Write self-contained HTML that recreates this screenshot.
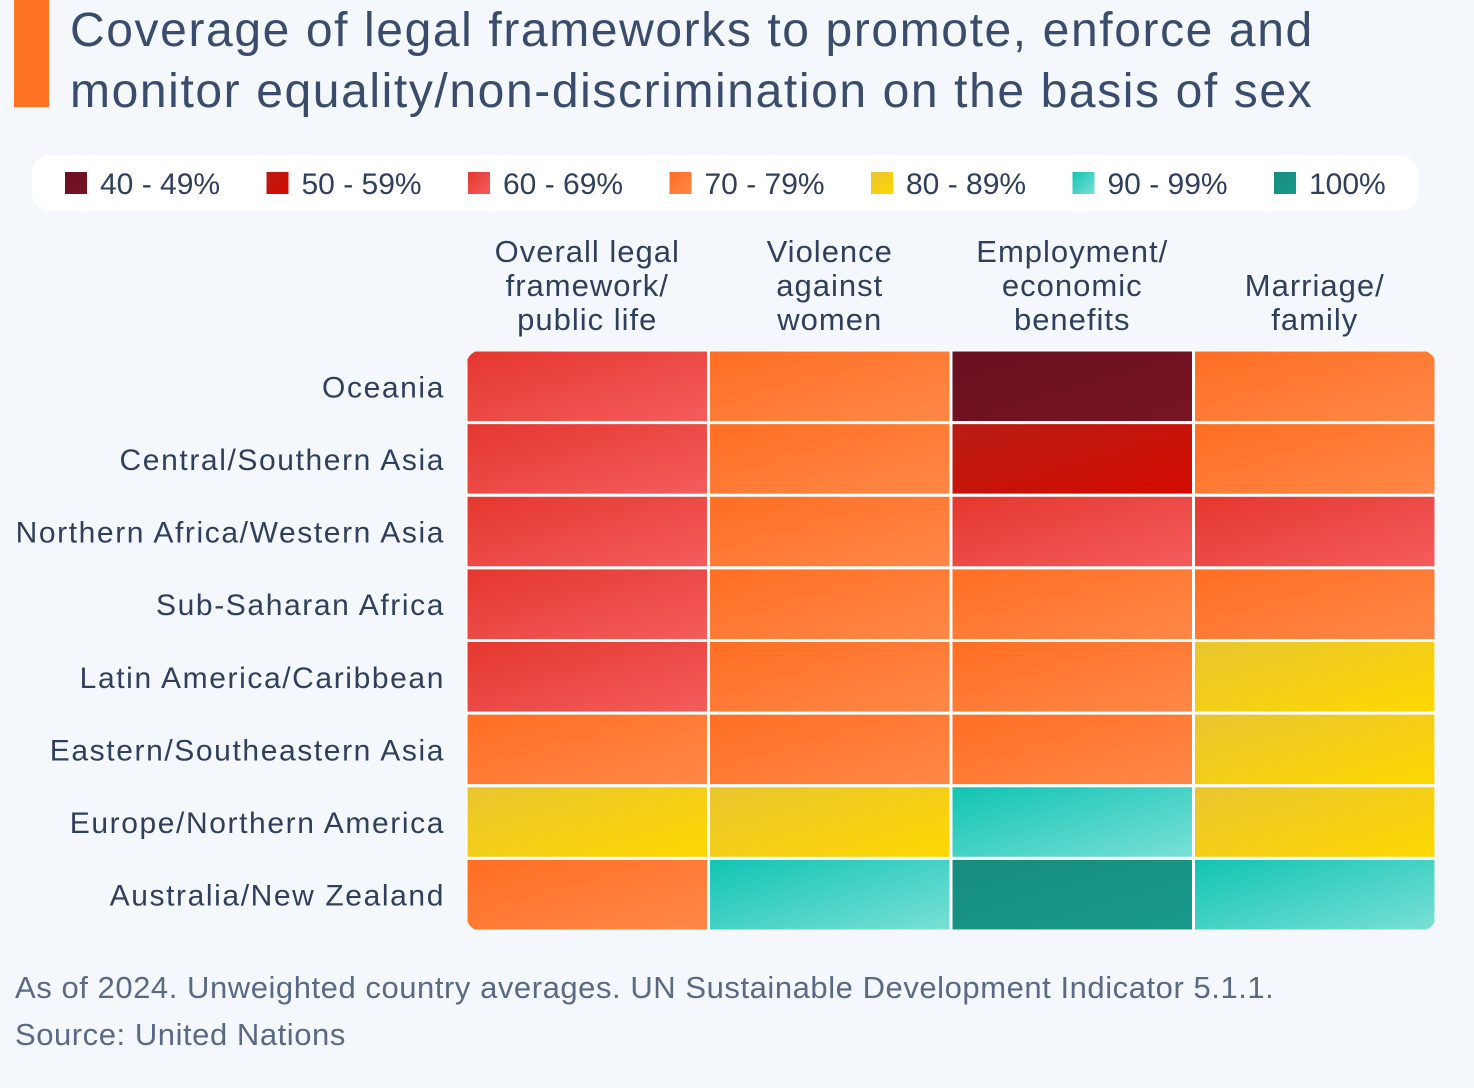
<!DOCTYPE html>
<html><head><meta charset="utf-8">
<style>
body{margin:0;width:1474px;height:1088px;background:#f4f7fb;font-family:"Liberation Sans","DejaVu Sans",sans-serif;overflow:hidden;position:relative}
.t{position:absolute;color:#3d4e69}
</style></head><body>
<div style="position:absolute;left:14px;top:0;width:35px;height:107px;background:#ff7324"></div>
<div class="t" style="left:70px;top:0;font-size:48px;line-height:61px;letter-spacing:1.6px;color:#3a4c6c">Coverage of legal frameworks to promote, enforce and<br>monitor equality/non-discrimination on the basis of sex</div>
<div style="position:absolute;left:32px;top:155px;width:1386px;height:56px;background:#fff;border-radius:18px"></div>
<svg id="chart" width="1474" height="1088" style="position:absolute;left:0;top:0">
<defs id="defs"></defs>
</svg>
<div class="t" style="left:15px;top:964px;font-size:31px;line-height:47px;letter-spacing:0.55px;color:#5a6a85">As of 2024. Unweighted country averages. UN Sustainable Development Indicator 5.1.1.<br>Source: United Nations</div>
<script>
const rows=["Oceania","Central/Southern Asia","Northern Africa/Western Asia","Sub-Saharan Africa","Latin America/Caribbean","Eastern/Southeastern Asia","Europe/Northern America","Australia/New Zealand"];
const cols=[["Overall legal","framework/","public life"],["Violence","against","women"],["Employment/","economic","benefits"],["Marriage/","family"]];
const overall=[65,66,64,66,67,75,85,75];
const violence=[74,73,74,75,76,76,84,95];
const employment=[45,55,64,73,74,73,93,100];
const marriage=[74,73,65,74,83,82,84,93];
const legendLabels=["40 - 49%","50 - 59%","60 - 69%","70 - 79%","80 - 89%","90 - 99%","100%"];
const bucketColors=[["#6a1020","#781424"],["#b81d14","#d40a00"],["#e4372e","#f45d5d"],["#ff6e22","#ff8848"],["#e8c530","#ffd800"],["#10c4b4","#7ae0d6"],["#158c7d","#1a9a8a"]];
const series=[overall,violence,employment,marriage];
const NS="http://www.w3.org/2000/svg";
const svg=document.getElementById('chart'),defs=document.getElementById('defs');
const X0=466,X1=1436,Y0=350,Y1=931;
const cw=(X1-X0)/cols.length, rh=(Y1-Y0)/rows.length;
const xPos=i=>X0+i*cw, yPos=j=>Y0+j*rh;
const bucket=v=>v>=100?6:v>=90?5:Math.max(0,Math.floor(v/10)-4);
bucketColors.forEach((c,k)=>{const g=document.createElementNS(NS,'linearGradient');g.id='g'+k;g.setAttribute('x1','0');g.setAttribute('y1','0');g.setAttribute('x2','1');g.setAttribute('y2','1');
g.innerHTML=`<stop offset="0" stop-color="${c[0]}"/><stop offset="1" stop-color="${c[1]}"/>`;defs.appendChild(g);});
const cp=document.createElementNS(NS,'clipPath');cp.id='clip';cp.innerHTML=`<rect x="${X0}" y="${Y0}" width="${X1-X0}" height="${Y1-Y0}" rx="16"/>`;defs.appendChild(cp);
const grp=document.createElementNS(NS,'g');grp.setAttribute('clip-path','url(#clip)');svg.appendChild(grp);
series.forEach((s,i)=>s.forEach((v,j)=>{const r=document.createElementNS(NS,'rect');
r.setAttribute('x',xPos(i));r.setAttribute('y',yPos(j));r.setAttribute('width',cw);r.setAttribute('height',rh);
r.setAttribute('fill','url(#g'+bucket(v)+')');r.setAttribute('stroke','#ffffff');r.setAttribute('stroke-width','3');


grp.appendChild(r);}));
rows.forEach((n,j)=>{const t=document.createElementNS(NS,'text');t.setAttribute('x',445);t.setAttribute('y',yPos(j)+rh/2+11);t.setAttribute('text-anchor','end');t.setAttribute('font-size','30');t.setAttribute('letter-spacing','1.6');t.setAttribute('fill','#2f3f5c');t.textContent=n;


svg.appendChild(t);});
cols.forEach((lines,i)=>{lines.forEach((l,k)=>{const t=document.createElementNS(NS,'text');t.setAttribute('x',xPos(i)+cw/2);t.setAttribute('y',330-(lines.length-1-k)*34);t.setAttribute('text-anchor','middle');t.setAttribute('font-size','31');t.setAttribute('letter-spacing','1');t.setAttribute('fill','#2f3f5c');t.textContent=l;


svg.appendChild(t);});});
legendLabels.forEach((l,k)=>{const x=65+k*201.5;const r=document.createElementNS(NS,'rect');r.setAttribute('x',x);r.setAttribute('y',172);r.setAttribute('width',22);r.setAttribute('height',22);r.setAttribute('fill','url(#g'+k+')');


svg.appendChild(r);
const t=document.createElementNS(NS,'text');t.setAttribute('x',x+35);t.setAttribute('y',194);t.setAttribute('font-size','30');t.setAttribute('fill','#2f3f5c');t.textContent=l;


svg.appendChild(t);});
</script>
</body></html>
